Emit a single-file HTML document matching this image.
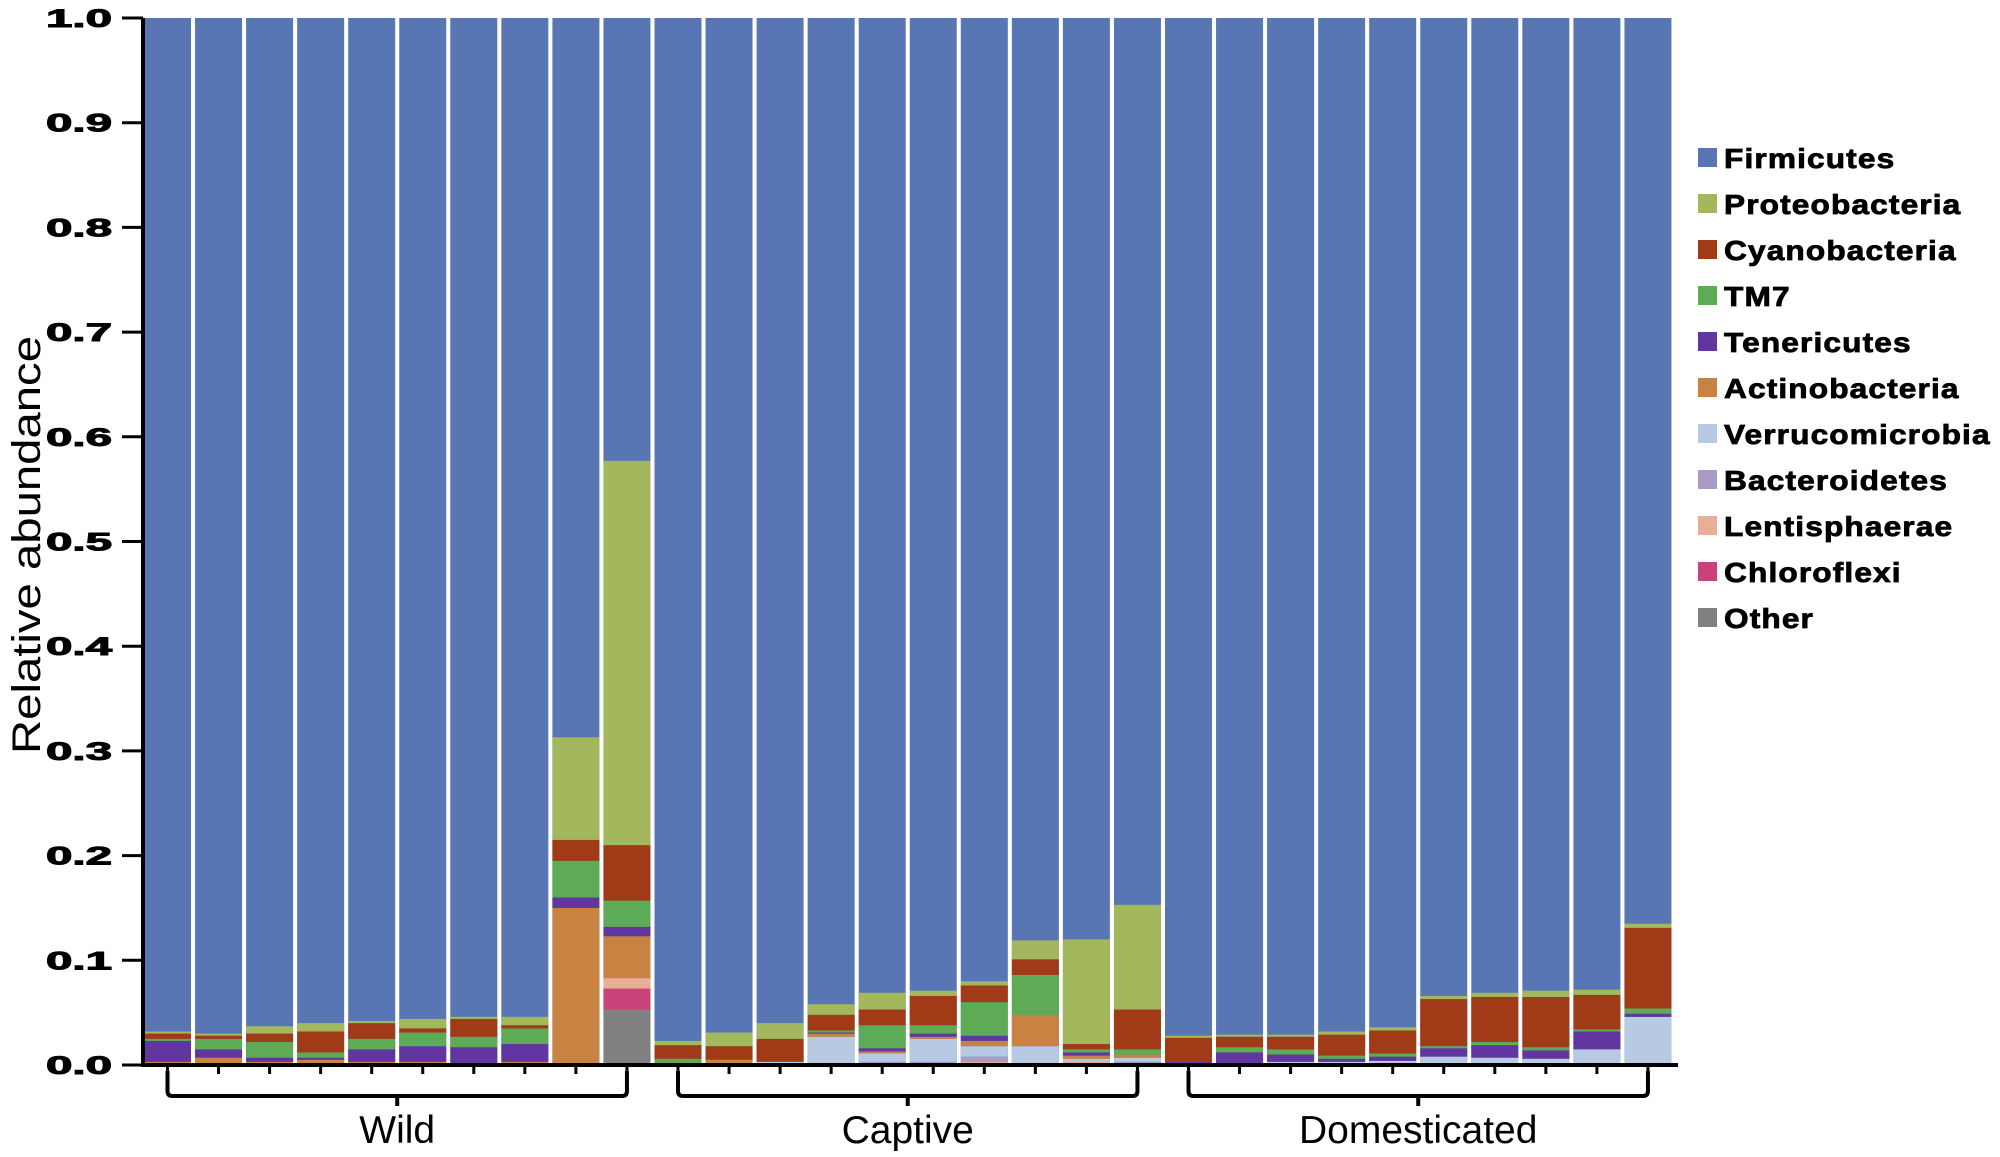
<!DOCTYPE html>
<html><head><meta charset="utf-8"><style>
html,body{margin:0;padding:0;background:#fff;}
svg{display:block;}
</style></head><body>
<svg id="c" width="2000" height="1157" xmlns="http://www.w3.org/2000/svg" font-family="Liberation Sans, sans-serif"></svg>
<script>
const C=["#808080","#C9427A","#E8AE97","#A99BC5","#B8C9E3","#C88342","#6236A0","#5EAB55","#A03A17","#A3B85C"];
const F="#5876B3";
const D=[
[0,0,0,0,0,.003,.02,.002,.005,.002],
[0,0,0,0,0,.007,.008,.01,.003,.002],
[0,0,0,0,0,.003,.004,.015,.008,.007],
[0,0,0,0,0,.005,.002,.005,.02,.008],
[0,0,0,0,0,.003,.012,.01,.015,.002],
[0,0,0,0,0,.003,.015,.013,.004,.009],
[0,0,0,0,0,.002,.015,.01,.017,.002],
[0,0,0,0,0,.003,.017,.015,.003,.008],
[0,0,0,0,0,.15,.01,.035,.02,.098],
[.053,.02,.01,0,0,.04,.009,.025,.053,.367],
[0,0,0,0,0,0,0,.006,.013,.004],
[0,0,0,0,0,.005,0,0,.013,.013],
[0,0,0,0,.003,0,0,0,.022,.015],
[0,0,0,0,.027,.003,.001,.002,.015,.01],
[0,0,0,.003,.008,.002,.003,.022,.015,.016],
[0,0,0,.003,.022,.002,.003,.008,.028,.005],
[0,0,.003,.005,.01,.005,.005,.032,.016,.004],
[0,0,0,0,.018,.03,0,.038,.015,.018],
[0,0,.003,0,.003,.003,.003,.003,.005,.1],
[0,0,0,.003,.004,.003,0,.005,.038,.1],
[0,0,0,0,0,0,.003,0,.023,.002],
[0,0,0,0,.002,0,.01,.005,.01,.002],
[0,0,0,0,.003,0,.007,.005,.012,.002],
[0,0,0,0,.003,0,.003,.003,.02,.003],
[0,0,0,0,.004,0,.004,.003,.022,.003],
[0,0,0,0,.008,0,.008,.002,.045,.003],
[0,0,0,0,.007,0,.012,.003,.043,.004],
[0,0,0,0,.006,0,.008,.003,.048,.006],
[0,0,0,0,.015,0,.017,.002,.033,.005],
[0,0,0,0,.046,0,.003,.005,.077,.004]];
const svg=document.getElementById('c');let s='';
const Y0=1065,H=1047,X0=144,P=51.05,W=47;
const y=v=>Y0-v*H;
D.forEach((d,i)=>{const x=X0+i*P;let cum=0;
 s+=`<rect x="${x}" y="${y(1)}" width="${W}" height="${H}" fill="${F}"/>`;
 d.forEach((v,k)=>{if(v>0){s+=`<rect x="${x}" y="${y(cum+v)}" width="${W}" height="${v*H}" fill="${C[k]}"/>`;}cum+=v;});
 s+=`<line x1="${x+W/2}" y1="${Y0}" x2="${x+W/2}" y2="${Y0+9}" stroke="#000" stroke-width="3"/>`;
});
s+=`<line x1="143" y1="${y(1)}" x2="143" y2="${Y0+2}" stroke="#000" stroke-width="4"/>`;
s+=`<line x1="141" y1="${Y0}" x2="1678" y2="${Y0}" stroke="#000" stroke-width="4"/>`;
for(let i=0;i<=10;i++){const yy=y(i/10);
 s+=`<line x1="122" y1="${yy}" x2="143" y2="${yy}" stroke="#000" stroke-width="3"/>`;
 s+=`<text x="46" y="${yy+9}" font-size="25" font-weight="bold" stroke="#000" stroke-width="1" textLength="66" lengthAdjust="spacingAndGlyphs">${(i/10).toFixed(1)}</text>`;}
s+=`<text transform="translate(40,754) rotate(-90)" font-size="40" textLength="418" lengthAdjust="spacingAndGlyphs">Relative abundance</text>`;
[["Wild",0],["Captive",10],["Domesticated",20]].forEach(([n,g])=>{
 const a=X0+g*P+W/2,b=X0+(g+9)*P+W/2,m=(a+b)/2;
 s+=`<path d="M${a} 1071 V1091 Q${a} 1096 ${a+5} 1096 H${b-5} Q${b} 1096 ${b} 1091 V1071 M${m} 1096 V1106" fill="none" stroke="#000" stroke-width="4"/>`;
 s+=`<text x="${m}" y="1143" text-anchor="middle" font-size="39">${n}</text>`;});
const L=["Firmicutes","Proteobacteria","Cyanobacteria","TM7","Tenericutes","Actinobacteria","Verrucomicrobia","Bacteroidetes","Lentisphaerae","Chloroflexi","Other"];
const LC=[F,"#A3B85C","#A03A17","#5EAB55","#6236A0","#C88342","#B8C9E3","#A99BC5","#E8AE97","#C9427A","#808080"];
L.forEach((n,i)=>{const yy=158+i*46;
 s+=`<rect x="1698" y="${yy-10}" width="19" height="19" fill="${LC[i]}"/>`;
 s+=`<text class="lg" x="1724" y="${yy+10}" font-size="28" font-weight="bold" stroke="#000" stroke-width="0.8" letter-spacing="1">${n}</text>`;});
svg.innerHTML=s;
document.querySelectorAll('text.lg').forEach(t=>{const w=t.getComputedTextLength();t.setAttribute('textLength',(w*1.13).toFixed(1));t.setAttribute('lengthAdjust','spacingAndGlyphs');});
</script>
</body></html>
